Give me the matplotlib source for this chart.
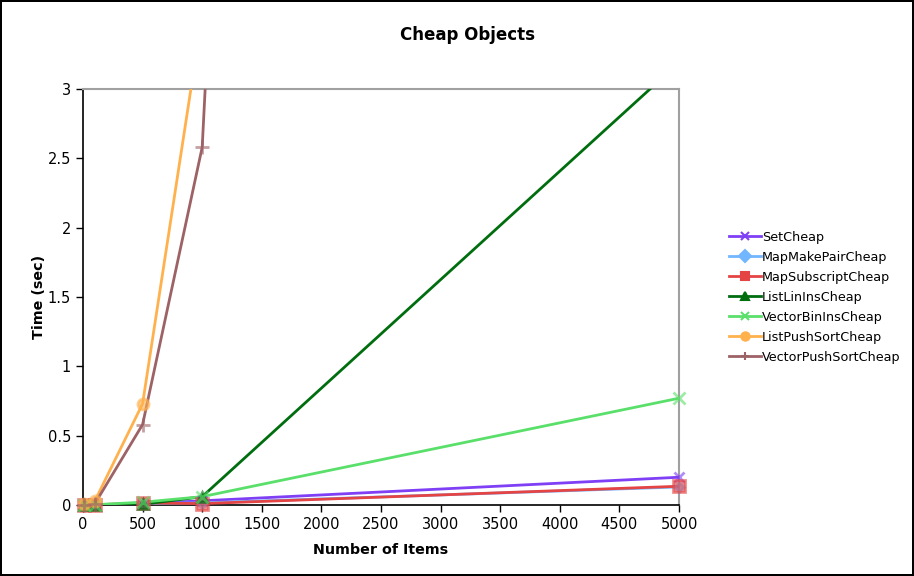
import numpy as np
import matplotlib.pyplot as plt

# timings for container insertion with cheap objects
items = [10, 100, 500, 1000, 5000]
set_cheap = [0.0, 0.001, 0.01, 0.03, 0.20]
map_make_pair = [0.0, 0.001, 0.01, 0.015, 0.13]
map_subscript = [0.0, 0.001, 0.015, 0.01, 0.135]
list_lin_ins = [0.0, 0.001, 0.005, 0.06, 3.19]
vector_bin_ins = [0.0, 0.002, 0.02, 0.06, 0.77]
list_push_sort = [0.005, 0.03, 0.73, 3.53, 90.0]
vector_push_sort = [0.002, 0.01, 0.58, 2.58, 70.0]

names = ['SetCheap', 'MapMakePairCheap', 'MapSubscriptCheap', 'ListLinInsCheap',
         'VectorBinInsCheap', 'ListPushSortCheap', 'VectorPushSortCheap']
series = [set_cheap, map_make_pair, map_subscript, list_lin_ins,
          vector_bin_ins, list_push_sort, vector_push_sort]
colors = ['#7f3ff5', '#72b6ff', '#e54444', '#006e0f', '#5ae06a', '#ffb14e', '#9d6266']
markers = ['x', 'D', 's', '^', 'x', 'o', '+']
msizes = [7, 5, 8, 7, 9, 8, 10]

plt.rcParams['font.family'] = 'DejaVu Sans'

fig = plt.figure(figsize=(9.14, 5.76), dpi=100)
fig.patch.set_edgecolor('black')
fig.patch.set_linewidth(1.5)
ax = fig.add_axes([0.0908, 0.1233, 0.6521, 0.7222])

ymax = 3
for vals, name, c, m, ms in zip(series, names, colors, markers, msizes):
    ax.plot(items, vals, color=c, lw=2.0, label=name, zorder=3)
    # markers off the top of the axis are skipped, the rest may overhang the bottom
    x_in = [x for x, v in zip(items, vals) if v <= ymax]
    v_in = [v for v in vals if v <= ymax]
    ax.plot(x_in, v_in, color=c, lw=0, marker=m, ms=ms, mew=2, alpha=0.6,
            clip_on=False, zorder=4)

ax.set_xlim(0, 5000)
ax.set_ylim(0, ymax)
ax.set_xticks(np.arange(0, 5001, 500))
ax.set_yticks([0, 0.5, 1, 1.5, 2, 2.5, 3])
ax.set_yticklabels(['0', '0.5', '1', '1.5', '2', '2.5', '3'])
ax.tick_params(labelsize=10.5, length=5, width=1)

for s in ['top', 'right']:
    ax.spines[s].set_color('#a0a0a0')
    ax.spines[s].set_linewidth(1.5)
for s in ['left', 'bottom']:
    ax.spines[s].set_linewidth(1.2)

fig.suptitle('Cheap Objects', fontsize=12, fontweight='bold', x=0.511, y=0.955)
ax.set_xlabel('Number of Items', fontsize=10.3, fontweight='bold', labelpad=8)
ax.set_ylabel('Time (sec)', fontsize=10.3, fontweight='bold', labelpad=1)

handles = [plt.Line2D([], [], color=c, lw=2, marker=m, ms=6, mew=1.5)
           for c, m in zip(colors, markers)]
fig.legend(handles, names, loc='center left', bbox_to_anchor=(0.785, 0.484),
           frameon=False, fontsize=9.2, handlelength=2.5, handletextpad=0.1,
           labelspacing=0.55)

fig.savefig('out.png', dpi=100)
